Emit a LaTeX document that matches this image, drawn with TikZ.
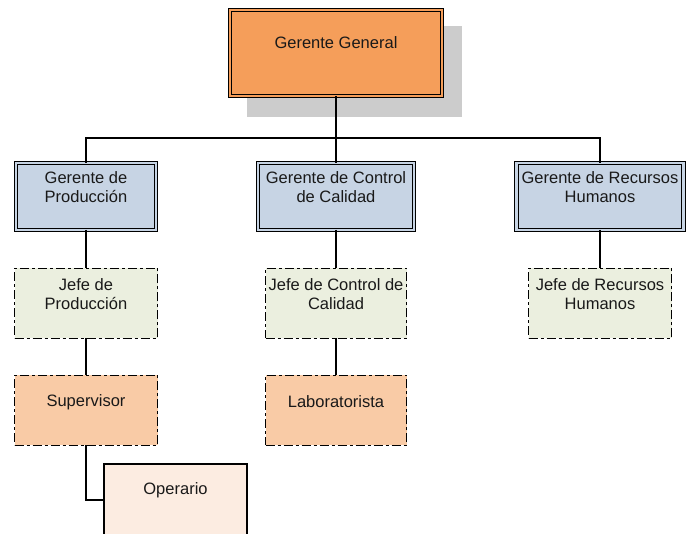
\documentclass[tikz,border=0pt]{standalone}
\usepackage{fontspec}
\setmainfont{Liberation Sans}
\definecolor{ggfill}{HTML}{F59E5A}
\definecolor{mgfill}{HTML}{C7D4E4}
\definecolor{jefefill}{HTML}{EBEFDF}
\definecolor{supfill}{HTML}{F9CBA6}
\definecolor{opfill}{HTML}{FCECE1}
\definecolor{shadowgray}{HTML}{CCCCCC}
\tikzset{
  box/.style={rectangle, inner sep=0pt, outer sep=0pt},
  dblbox/.style={box, draw=black, line width=1.1pt, double distance=2.2pt},
  ggbox/.style={dblbox, double=ggfill, fill=ggfill},
  mgbox/.style={dblbox, double=mgfill, fill=mgfill},
  dashbox/.style={box, draw=black, line width=1.5pt, dash pattern=on 9pt off 3pt on 3pt off 3pt},
  jefebox/.style={dashbox, fill=jefefill},
  supbox/.style={dashbox, fill=supfill},
  opbox/.style={box, draw=black, line width=1.2pt, fill=opfill},
  lbl/.style={inner sep=0pt, align=center, font=\fontsize{16.5}{19}\selectfont, text=black!90},
  conn/.style={draw=black, line width=1.3pt}
}
\begin{document}
\begin{tikzpicture}[x=1pt, y=-1pt]
\useasboundingbox (0,0) rectangle (686,534);
% shadow
\fill[shadowgray] (247,26) rectangle (462,117);
% level 1
\node[ggbox, minimum width=212pt, minimum height=86pt] (gg) at (336,53) {};
\node[lbl] (ggt) at (336,43) {Gerente General};
% level 2
\node[mgbox, minimum width=140pt, minimum height=67pt] (gp) at (86,196.5) {};
\node[lbl] (gpt) at (86,187) {Gerente de\\Producción};
\node[mgbox, minimum width=156pt, minimum height=67pt] (gc) at (336,196.5) {};
\node[lbl] (gct) at (336,187) {Gerente de Control\\de Calidad};
\node[mgbox, minimum width=167pt, minimum height=67pt] (gr) at (600,196.5) {};
\node[lbl] (grt) at (600,187) {Gerente de Recursos\\Humanos};
% level 3
\node[jefebox, minimum width=143pt, minimum height=70pt] (jp) at (86,303.5) {};
\node[lbl] (jpt) at (86,294) {Jefe de\\Producción};
\node[jefebox, minimum width=141pt, minimum height=70pt] (jc) at (336,303.5) {};
\node[lbl] (jct) at (336,294) {Jefe de Control de\\Calidad};
\node[jefebox, minimum width=143pt, minimum height=70pt] (jr) at (600,303.5) {};
\node[lbl] (jrt) at (600,294) {Jefe de Recursos\\Humanos};
% level 4
\node[supbox, minimum width=143pt, minimum height=70pt] (sp) at (86,410.5) {};
\node[lbl] (spt) at (86,402) {Supervisor};
\node[supbox, minimum width=141pt, minimum height=70pt] (lb) at (336,410.5) {};
\node[lbl] (lbt) at (336,402) {Laboratorista};
% level 5
\node[opbox, minimum width=143pt, minimum height=72pt] (op) at (175.5,500) {};
\node[lbl] (opt) at (175.5,490) {Operario};
% connectors
\coordinate (bus) at (336,138);
\draw[conn] (gg.south) -- (gc.north);
\draw[conn] (gp.north) |- (bus);
\draw[conn] (gr.north) |- (bus);
\draw[conn] (gp.south) -- (jp.north);
\draw[conn] (gc.south) -- (jc.north);
\draw[conn] (gr.south) -- (jr.north);
\draw[conn] (jp.south) -- (sp.north);
\draw[conn] (jc.south) -- (lb.north);
\draw[conn] (sp.south) |- (op.west);
\end{tikzpicture}
\end{document}
